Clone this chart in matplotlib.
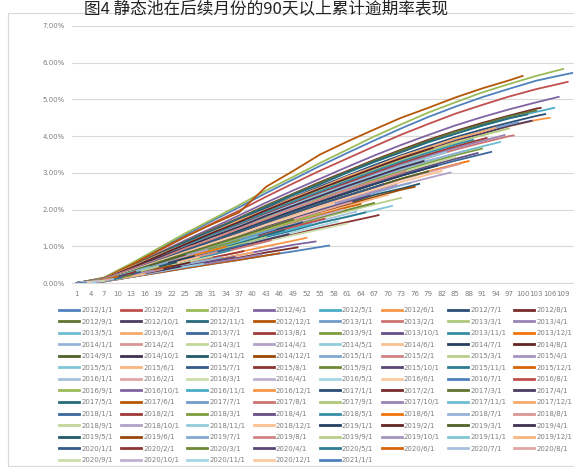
import matplotlib
matplotlib.use("Agg")
import matplotlib.pyplot as plt
import colorsys
from matplotlib.colors import to_rgb
from matplotlib.patches import Rectangle

plt.rcParams['font.family'] = ['DejaVu Sans']

title = "图4 静态池在后续月份的90天以上累计逾期率表现"

# cohort labels (static pools) 2012/1/1 ... 2021/1/1
cohort_labels = [f"{y}/{m}/1" for y in range(2012, 2022) for m in range(1, 13)][:109]

# months on book observed for each cohort
obs_months = [111, 110, 109, 108, 107, 106, 105, 104, 103, 102, 101, 100,
              99, 98, 97, 96, 95, 94, 93, 92, 91, 90, 89, 88,
              87, 86, 85, 84, 83, 82, 81, 80, 79, 78, 77, 76,
              75, 74, 73, 72, 71, 70, 69, 68, 67, 66, 65, 64,
              63, 62, 61, 60, 59, 58, 57, 56, 55, 54, 53, 52,
              51, 50, 49, 48, 47, 46, 45, 44, 43, 42, 41, 40,
              39, 38, 37, 36, 35, 34, 33, 32, 31, 30, 29, 28,
              27, 26, 25, 24, 23, 22, 21, 20, 19, 18, 17, 16,
              15, 14, 13, 12, 11, 10, 9, 8, 7, 6, 5, 4, 3]

# months at which values were read (plus each cohort's last observed month)
read_months = [1, 7, 13, 19, 25, 31, 37, 43, 49, 55, 61, 67, 73, 79, 85, 91, 97, 103, 109]

# cumulative 90+ default rate, basis points
cum_rate_bp = [
    [0,14,51,91,130,169,206,245,282,319,354,388,421,452,480,506,529,551,567,572],
    [0,13,49,87,125,162,197,235,271,306,339,372,404,433,461,485,508,528,545,548],
    [0,15,53,94,135,173,212,252,289,327,363,399,432,464,492,519,542,564,583],
    [0,12,46,81,116,150,184,219,252,284,316,347,376,403,429,452,473,492,507],
    [0,12,43,77,110,143,174,208,239,270,300,329,357,383,407,428,448,466,477],
    [0,11,41,73,105,136,166,198,228,257,285,313,340,364,387,408,427,444,450],
    [0,11,42,75,108,139,170,203,233,263,292,321,348,373,397,418,437,455,460],
    [0,12,44,79,112,145,177,211,243,275,305,335,363,390,414,436,456,475,477],
    [0,12,44,78,112,144,176,210,242,273,303,333,361,387,412,433,454,470],
    [0,10,40,74,104,137,168,196,226,258,287,311,338,366,389,407,428,442],
    [0,13,44,76,111,142,175,207,240,269,301,330,356,384,406,429,449,459],
    [0,13,49,88,126,160,192,262,305,350,385,418,450,477,505,530,552,564],
    [0,11,42,74,106,138,168,200,230,260,289,317,344,369,392,413,432,438],
    [0,10,38,69,98,127,155,185,213,241,267,293,318,341,363,382,400,402],
    [0,11,41,73,104,134,164,195,225,254,282,309,335,360,382,402,421],
    [0,11,39,70,100,129,158,188,216,244,271,297,323,346,368,387,403],
    [0,10,37,67,96,124,151,180,207,234,260,285,310,332,353,372,384],
    [0,12,43,75,105,137,170,199,232,259,290,316,345,368,393,412,423],
    [0,10,35,63,90,117,143,170,196,221,245,269,292,313,333,351,357],
    [0,11,40,71,101,131,160,190,219,247,274,301,327,350,372,392,395],
    [0,10,37,66,94,122,149,178,204,231,256,281,305,327,348,366],
    [0,10,36,64,92,119,145,173,199,224,249,273,297,318,338,354],
    [0,11,40,72,102,132,162,193,222,250,278,305,331,355,377,390],
    [0,9,34,61,88,114,139,165,190,215,238,261,284,304,323,332],
    [0,11,36,68,95,126,150,182,206,236,259,287,309,334,352,359],
    [0,9,34,61,87,113,138,164,189,213,236,259,282,302,321,324],
    [0,10,36,65,93,120,147,175,202,228,253,277,301,323,343],
    [0,9,32,58,82,107,130,155,179,202,224,246,267,286,301],
    [0,10,38,69,98,127,155,185,213,241,267,293,318,341,356],
    [0,9,33,60,85,110,134,160,184,208,231,253,275,295,305],
    [0,10,35,63,90,117,143,170,196,221,245,269,292,313,320],
    [0,11,41,73,105,136,166,198,228,257,285,313,340,364,368],
    [0,9,34,61,88,114,139,165,190,215,238,261,284,304],
    [0,10,38,68,97,126,153,183,210,237,264,289,314,332],
    [0,9,30,57,79,104,125,152,172,197,216,240,257,270],
    [0,8,31,55,78,101,124,148,170,192,213,234,254,262],
    [0,8,33,57,83,106,131,154,180,201,225,245,266,272],
    [0,11,37,64,94,119,148,174,203,227,254,276,300,305],
    [0,8,28,50,72,93,113,135,156,176,195,214,232],
    [0,9,33,59,84,108,132,158,181,205,227,249,267],
    [0,7,26,47,67,86,105,125,144,163,181,198,210],
    [0,8,30,54,77,100,122,145,167,189,209,230,240],
    [0,9,34,61,88,114,139,165,190,215,238,261,269],
    [0,6,24,43,61,79,97,115,132,150,166,182,185],
    [0,8,29,51,73,95,116,138,158,179,199,218],
    [0,9,32,57,81,105,128,153,176,198,220,238],
    [0,8,25,48,66,87,104,126,143,164,180,192],
    [0,8,30,53,76,98,120,143,164,185,206,215],
    [0,7,27,48,69,89,109,130,150,169,188,194],
    [0,8,31,56,80,103,126,150,173,195,217,220],
    [0,6,23,42,60,77,95,113,130,146,162],
    [0,8,29,52,74,96,118,140,161,182,199],
    [0,7,25,45,64,83,101,120,138,156,168],
    [0,9,33,59,84,108,132,158,181,205,216],
    [0,4,16,28,40,52,63,75,86,98,102],
    [0,7,28,49,70,91,111,133,153,172,175],
    [0,8,30,54,77,100,122,145,167,189],
    [0,5,19,33,48,62,76,90,104,113],
    [0,7,27,47,68,88,107,128,147,160],
    [0,6,21,37,53,69,84,100,115,123],
    [0,8,29,51,73,95,116,138,158,165],
    [0,5,17,31,44,57,69,83,95,97],
    [0,8,31,56,80,103,126,150,173],
    [0,7,24,44,63,81,99,118,133],
    [0,7,27,48,69,89,109,130,144],
    [0,4,16,28,40,52,63,75,81],
    [0,8,29,52,74,96,118,140,147],
    [0,6,23,42,60,77,95,113,116],
    [0,7,26,47,67,86,105,125],
    [0,4,17,30,43,55,67,78],
    [0,8,28,50,72,93,113,128],
    [0,5,19,33,48,62,76,83],
    [0,7,25,45,64,83,101,107],
    [0,6,21,37,53,69,84,87],
    [0,8,29,51,73,95,116],
    [0,5,18,33,47,60,71],
    [0,6,23,42,60,77,89],
    [0,7,27,48,69,89,99],
    [0,5,20,35,51,65,70],
    [0,7,24,44,63,81,84],
    [0,6,22,39,56,72],
    [0,8,29,51,73,91],
    [0,5,17,31,44,52],
    [0,6,24,43,61,70],
    [0,7,26,47,67,73],
    [0,6,21,37,53,56],
    [0,8,30,54,77],
    [0,5,19,33,45],
    [0,7,24,44,56],
    [0,6,22,39,47],
    [0,7,28,49,56],
    [0,5,20,35,38],
    [0,7,25,45],
    [0,6,21,34],
    [0,8,29,43],
    [0,5,18,25],
    [0,6,23,30],
    [0,7,27,31],
    [0,6,21],
    [0,7,23],
    [0,5,15],
    [0,8,18],
    [0,6,11],
    [0,7,10],
    [0,6],
    [0,4],
    [0,3],
    [0,1],
    [0,1],
]

y_ticks = [0, 1, 2, 3, 4, 5, 6, 7]
x_ticks = list(range(1, 110, 3))

# Excel 2007 style series colours
base_colors = ['#4F81BD', '#C0504D', '#9BBB59', '#8064A2', '#4BACC6', '#F79646']
variations = [(1.0, 0.0), (0.6, 0.0), (0.8, 0.2), (0.8, 0.0), (0.6, 0.4),
              (0.5, 0.0), (0.7, 0.3), (0.7, 0.0), (0.5, 0.5)]


def series_color(k):
    r, g, b = to_rgb(base_colors[k % 6])
    mod, off = variations[(k // 6) % 9]
    h, l, s = colorsys.rgb_to_hls(r, g, b)
    l = min(1.0, max(0.0, l * mod + off))
    return colorsys.hls_to_rgb(h, l, s)


W, H = 574, 467
fig = plt.figure(figsize=(W / 100, H / 100), dpi=100)
ax = fig.add_axes([72 / W, 1 - 283 / H, 1 - 72 / W, (283 - 26) / H])

handles = []
for k, vals in enumerate(cum_rate_bp):
    L = obs_months[k]
    xs = [m for m in read_months if m < L] + [L]
    ys = [v / 100 for v in vals]
    h, = ax.plot(xs, ys, color=series_color(k), lw=1.3, solid_joinstyle='round')
    handles.append(h)

ax.set_xlim(-0.1, 111.4)
ax.set_ylim(0, 7)
ax.set_yticks(y_ticks)
ax.set_yticklabels([f"{v:.2f}%" for v in y_ticks])
ax.set_xticks(x_ticks)
ax.set_xticklabels([str(v) for v in x_ticks])
ax.tick_params(axis='both', length=0, labelsize=5, colors='#7f7f7f')
ax.tick_params(axis='y', pad=5)
ax.tick_params(axis='x', pad=6)
ax.grid(axis='y', color='#d9d9d9', lw=0.8)
ax.set_axisbelow(True)
for sp in ['top', 'right', 'left']:
    ax.spines[sp].set_visible(False)
ax.spines['bottom'].set_color('#d9d9d9')
ax.spines['bottom'].set_linewidth(0.8)

# legend: row-major order like Excel (8 columns)
ncol = 8
n = len(handles)
order = [r * ncol + c for c in range(ncol) for r in range((n + ncol - 1) // ncol) if r * ncol + c < n]
leg_h = [handles[i] for i in order]
leg_l = [cohort_labels[i] for i in order]
leg = fig.legend(leg_h, leg_l, ncol=ncol, loc='upper left',
                 bbox_to_anchor=(59 / W, 1 - 307 / H), frameon=False,
                 fontsize=5, handlelength=2.9, handletextpad=0.3,
                 columnspacing=1.15, labelspacing=0.8, borderpad=0, borderaxespad=0)
for t in leg.get_texts():
    t.set_color('#7f7f7f')
for lh in leg.legend_handles:
    lh.set_linewidth(2.0)

# chart area border
fig.patches.append(Rectangle((8 / W, 1 - 466 / H), 1.0, (466 - 13) / H,
                             transform=fig.transFigure, fill=False,
                             edgecolor='#d9d9d9', lw=0.8))

fig.text(266 / W, 1 - 14.5 / H, title, ha='center', va='baseline', fontsize=12,
         family=['Noto Sans CJK SC', 'DejaVu Sans'], color='#222222')

fig.savefig('out.png', dpi=100)
